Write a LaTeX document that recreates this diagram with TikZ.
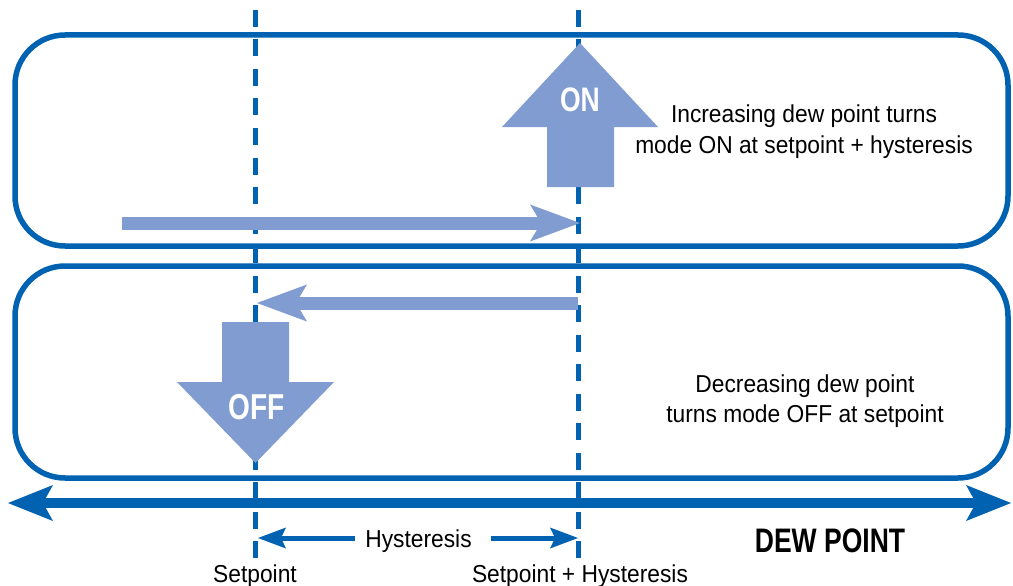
\documentclass[tikz,border=0pt]{standalone}
\usepackage{fontspec}
\setmainfont{Liberation Sans}
\newfontfamily\condbold[FakeStretch=0.78]{Liberation Sans}
\newfontfamily\bodyfont[FakeStretch=0.93]{Liberation Sans}
\usetikzlibrary{arrows.meta}
\definecolor{dkblue}{HTML}{0062B0}
\definecolor{ltblue}{HTML}{819CD0}
\begin{document}
\begin{tikzpicture}[x=1pt,y=-1pt,
  modebox/.style={draw=dkblue, line width=5.5pt, rounded corners=50pt, fill=white, inner sep=0pt, minimum width=993pt, minimum height=211pt},
  guide/.style={draw=dkblue, line width=5pt, dash pattern=on 17pt off 12.5pt},
  flowarrow/.style={draw=ltblue, line width=13pt, -{Stealth[length=50pt,width=37pt,inset=11pt,line width=0pt]}},
  bigarrow/.style={fill=ltblue},
  axisarrow/.style={draw=dkblue, line width=10pt, {Stealth[length=45pt,width=36pt,inset=10pt,line width=0pt]}-{Stealth[length=45pt,width=36pt,inset=10pt,line width=0pt]}},
  hystarrow/.style={draw=dkblue, line width=5pt, -{Stealth[length=28pt,width=21pt,inset=5pt,line width=0pt]}},
  bodytext/.style={font=\fontsize{24.5}{31}\bodyfont, align=center, inner sep=0pt, text=black},
  modetext/.style={font=\fontsize{34}{36}\condbold\bfseries, text=white, inner sep=0pt},
  axistext/.style={font=\fontsize{34}{36}\condbold\bfseries, text=black, inner sep=0pt}
]
\useasboundingbox[fill=white] (0,0) rectangle (1013,586);

% mode boxes
\node[modebox] (upper) at (511.5,140.5) {};
\node[modebox, minimum height=212pt] (lower) at (511.5,372) {};

% guide lines
\coordinate (sptop) at (255,10);
\coordinate (spbot) at (255,558);
\coordinate (shtop) at (578,10);
\coordinate (shbot) at (578,558);
\draw[guide] (sptop) -- (spbot);
\draw[guide] (shtop) -- (shbot);

% ON arrow
\fill[bigarrow] (547,187) -- (614,187) -- (614,127) -- (658,127) -- (580,43) -- (502,127) -- (547,127) -- cycle;
\node[modetext] (on) at (580,100) {ON};

% OFF arrow
\fill[bigarrow] (222,322) -- (289,322) -- (289,382) -- (334,382) -- (255.5,463) -- (177,382) -- (222,382) -- cycle;
\node[modetext, font=\fontsize{36}{38}\condbold\bfseries] (off) at (257,407) {OFF};

% increasing / decreasing flow arrows
\coordinate (incstart) at (122,223);
\coordinate (incend) at (580,223);
\coordinate (decstart) at (578,303);
\coordinate (decend) at (257,303);
\draw[flowarrow] (incstart) -- (incend);
\draw[flowarrow] (decstart) -- (decend);

% texts in boxes
\node[bodytext] (inctext) at (804,132) {Increasing dew point turns\\mode ON at setpoint + hysteresis};
\node[bodytext, font=\fontsize{24.5}{30}\bodyfont] (dectext) at (805,401) {Decreasing dew point\\turns mode OFF at setpoint};

% dew point axis
\coordinate (axl) at (8,503);
\coordinate (axr) at (1011,503);
\draw[axisarrow] (axl) -- (axr);

% hysteresis
\node[bodytext, anchor=base] (hyst) at (418.5,547) {Hysteresis};
\coordinate (hl) at (355,538);
\coordinate (hr) at (491,538);
\coordinate (hltip) at (258,538);
\coordinate (hrtip) at (578,538);
\draw[hystarrow] (hl) -- (hltip);
\draw[hystarrow] (hr) -- (hrtip);

\node[axistext, anchor=base] (dew) at (830,552) {DEW POINT};
\node[bodytext, anchor=base] (sp) at (255,582) {Setpoint};
\node[bodytext, anchor=base] (sph) at (580,582) {Setpoint + Hysteresis};
\end{tikzpicture}
\end{document}
